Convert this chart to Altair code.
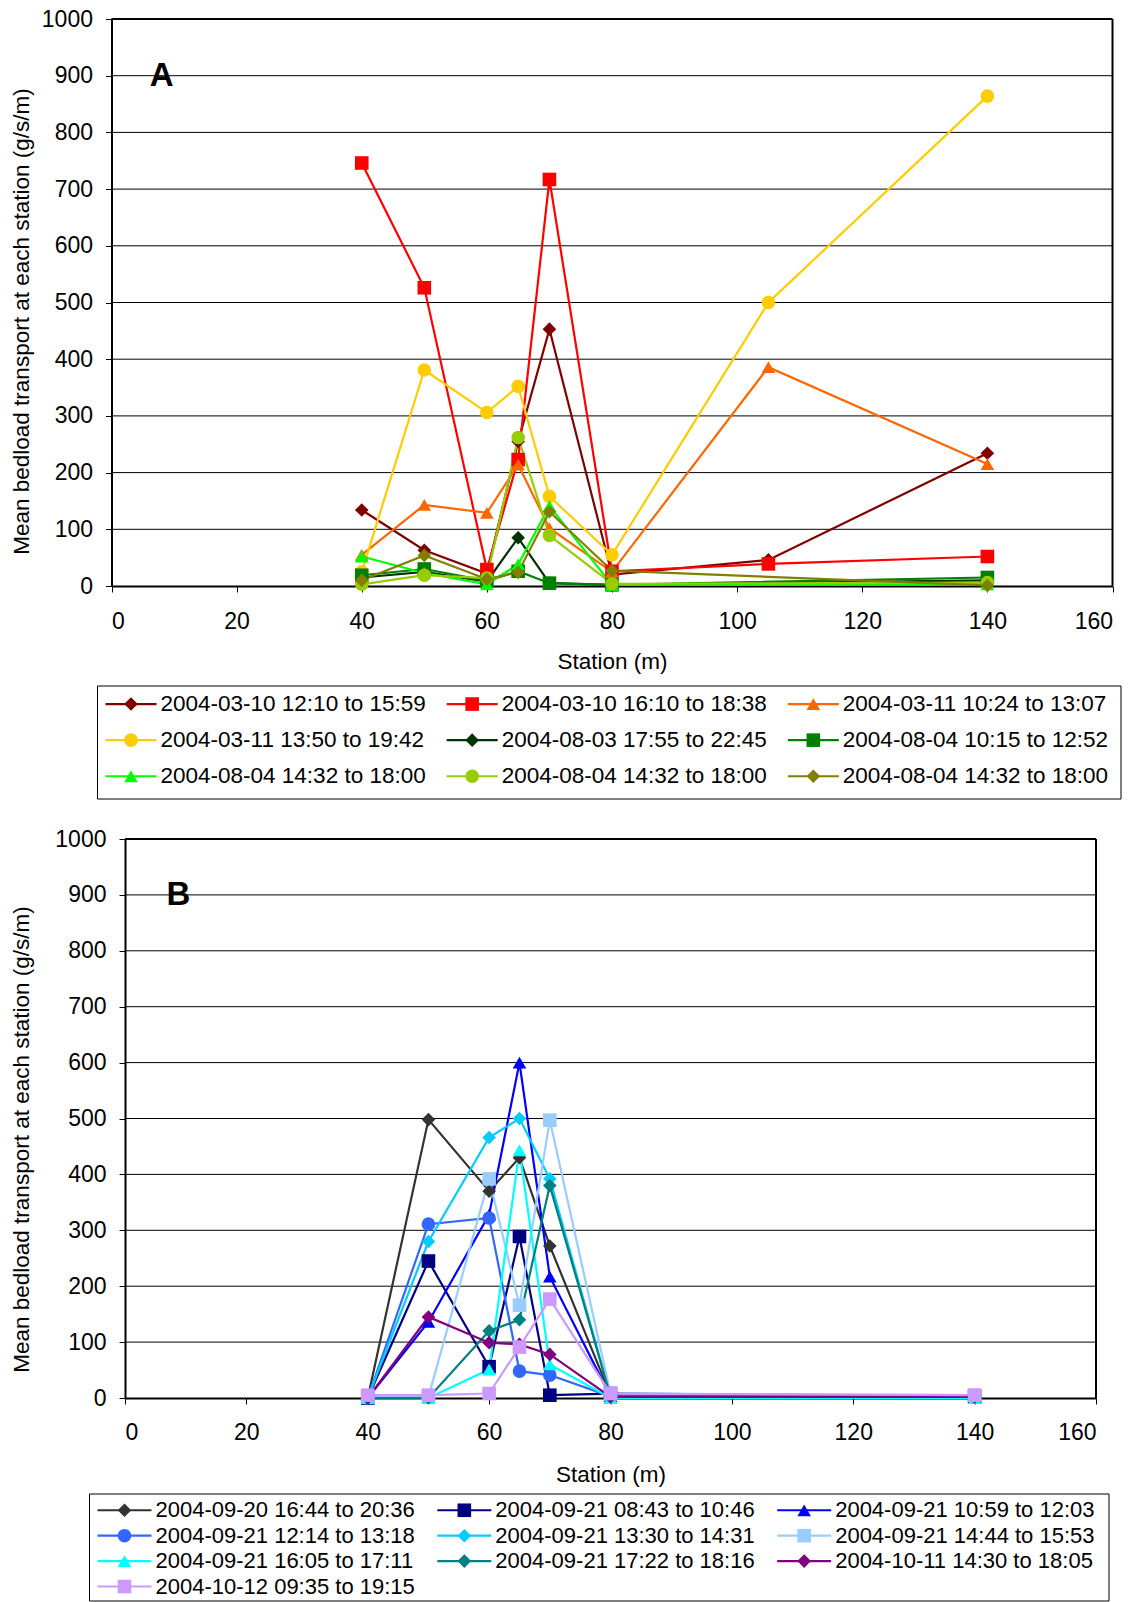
import altair as alt
import pandas as pd

# Stations along the cross-section (m)
stations_a = [40, 50, 60, 65, 70, 80, 105, 140]
stations_a_short = [40, 50, 60, 65, 70, 80, 140]
stations_b = [40, 50, 60, 65, 70, 80, 140]

# Panel A: sampling periods, line colours and marker shapes
labels_a = [
    "2004-03-10 12:10 to 15:59", "2004-03-10 16:10 to 18:38", "2004-03-11 10:24 to 13:07",
    "2004-03-11 13:50 to 19:42", "2004-08-03 17:55 to 22:45", "2004-08-04 10:15 to 12:52",
    "2004-08-04 14:32 to 18:00", "2004-08-04 14:32 to 18:00", "2004-08-04 14:32 to 18:00",
]
colors_a = ["#800000", "#FF0000", "#FF6600", "#FFCC00", "#003300",
            "#008000", "#00FF00", "#99CC00", "#808000"]
shapes_a = ["diamond", "square", "triangle-up", "circle", "diamond",
            "square", "triangle-up", "circle", "diamond"]

# Panel A: mean bedload transport (g/s/m)
a1 = [134, 63, 22, 255, 453, 20, 46, 234]
a2 = [746, 526, 29, 223, 717, 26, 39, 52]
a3 = [55, 143, 129, 214, 102, 25, 386, 215]
a4 = [25, 381, 306, 352, 158, 55, 500, 864]
a5 = [15, 25, 8, 85, 5, 2, 10]
a6 = [19, 30, 9, 26, 5, 2, 15]
a7 = [52, 23, 3, 38, 141, 2, 3]
a8 = [3, 19, 14, 262, 89, 4, 6]
a9 = [10, 54, 12, 24, 131, 27, 1]
series_a = [a1, a2, a3, a4, a5, a6, a7, a8, a9]
stations_per_a = [stations_a] * 4 + [stations_a_short] * 5

# Panel B: sampling periods, line colours and marker shapes
labels_b = [
    "2004-09-20 16:44 to 20:36", "2004-09-21 08:43 to 10:46", "2004-09-21 10:59 to 12:03",
    "2004-09-21 12:14 to 13:18", "2004-09-21 13:30 to 14:31", "2004-09-21 14:44 to 15:53",
    "2004-09-21 16:05 to 17:11", "2004-09-21 17:22 to 18:16", "2004-10-11 14:30 to 18:05",
    "2004-10-12 09:35 to 19:15",
]
colors_b = ["#333333", "#000080", "#0000FF", "#3366FF", "#00CCFF",
            "#99CCFF", "#00FFFF", "#008080", "#800080", "#CC99FF"]
shapes_b = ["diamond", "square", "triangle-up", "circle", "diamond",
            "square", "triangle-up", "diamond", "diamond", "square"]

# Panel B: mean bedload transport (g/s/m)
b1 = [0, 498, 370, 430, 272, 5, 2]
b2 = [0, 245, 56, 289, 5, 8, 3]
b3 = [0, 136, 328, 600, 217, 3, 0]
b4 = [0, 311, 322, 48, 41, 3, 2]
b5 = [0, 280, 466, 500, 392, 3, 2]
b6 = [2, 2, 392, 166, 497, 8, 5]
b7 = [0, 0, 51, 443, 60, 0, 0]
b8 = [0, 0, 120, 140, 380, 3, 2]
b9 = [0, 145, 99, 96, 78, 2, 2]
b10 = [5, 5, 8, 91, 177, 8, 5]
series_b = [b1, b2, b3, b4, b5, b6, b7, b8, b9, b10]
stations_per_b = [stations_b] * 10

y_ticks = list(range(0, 1001, 100))
x_ticks = list(range(0, 161, 20))

FONT = "Liberation Sans"
BOLD_FONT = "Liberation Sans"
MARKER = 185

sids_a = [f"A{i + 1:02d}" for i in range(len(series_a))]
sids_b = [f"B{i + 1:02d}" for i in range(len(series_b))]
color_scale = alt.Scale(domain=sids_a + sids_b, range=colors_a + colors_b)
shape_scale = alt.Scale(domain=sids_a + sids_b, range=shapes_a + shapes_b)
color = alt.Color("sid:N", scale=color_scale, legend=None)
shape = alt.Shape("sid:N", scale=shape_scale, legend=None)


def long_table(sids, stations_per, series):
    rows = []
    for sid, st, vals in zip(sids, stations_per, series):
        for s, v in zip(st, vals):
            rows.append({"sid": sid, "station": s, "value": v})
    return pd.DataFrame(rows)


def legend_table(sids, labels):
    return pd.DataFrame({
        "sid": sids,
        "label": labels,
        "col": [i % 3 for i in range(len(sids))],
        "row": [i // 3 + 0.5 for i in range(len(sids))],
    })


def panel(tag, data, width, height, x_range, y_axis_offset, y_title_pad, y_title_y,
          x_label_pad, x_title_pad, tag_x):
    xs = alt.Scale(domain=[0, 160], range=x_range, nice=False, zero=False)
    ys = alt.Scale(domain=[0, 1000], nice=False, zero=False)
    x_axis = alt.Axis(values=x_ticks, title="Station (m)", grid=False, tickSize=6,
                      labelPadding=x_label_pad, titlePadding=x_title_pad)
    y_axis = alt.Axis(values=y_ticks, format="d",
                      title="Mean bedload transport at each station (g/s/m)",
                      grid=False, tickSize=6, labelPadding=13, titlePadding=y_title_pad,
                      titleY=y_title_y, offset=y_axis_offset)

    def X(field):
        return alt.X(field, scale=xs, axis=x_axis)

    def Y(field):
        return alt.Y(field, scale=ys, axis=y_axis)

    base = alt.Chart(data)
    lines = base.mark_line(strokeWidth=2.2).encode(
        x=X("station:Q"), y=Y("value:Q"), color=color,
    )
    points = base.mark_point(filled=True, size=MARKER, opacity=1).encode(
        x=X("station:Q"), y=Y("value:Q"), color=color, shape=shape,
    )
    # horizontal gridlines and the top / right edges of the plot frame
    grid = alt.Chart(pd.DataFrame({"v": y_ticks[1:-1], "s0": 0, "s1": 160})).mark_rule(
        color="#000000", strokeWidth=1
    ).encode(y=Y("v:Q"), x=X("s0:Q"), x2="s1:Q")
    frame_top = alt.Chart(pd.DataFrame({"v": [1000], "s0": [0], "s1": [160]})).mark_rule(
        color="#000000", strokeWidth=2
    ).encode(y=Y("v:Q"), x=X("s0:Q"), x2="s1:Q")
    frame_right = alt.Chart(pd.DataFrame({"s": [160], "v0": [0], "v1": [1000]})).mark_rule(
        color="#000000", strokeWidth=2
    ).encode(x=X("s:Q"), y=Y("v0:Q"), y2="v1:Q")
    tag_text = alt.Chart(pd.DataFrame({"tag": [tag], "s": [tag_x], "v": [900]})).mark_text(
        font=BOLD_FONT, fontSize=33, fontWeight="bold", align="center",
        baseline="middle", color="#000000"
    ).encode(x=X("s:Q"), y=Y("v:Q"), text="tag:N")

    return alt.layer(grid, frame_top, frame_right, lines, points, tag_text).properties(
        width=width, height=height
    )


def legend_box(leg, width, x_range, y_domain, height, line_len, text_dx, font_size):
    lx = alt.Scale(domain=[0, 3], range=x_range, nice=False, zero=False)
    ly = alt.Scale(domain=y_domain, range=[0, height], nice=False, zero=False)
    lbase = alt.Chart(leg)
    box = alt.Chart(pd.DataFrame({"c0": [0], "c1": [3], "r0": [y_domain[0]], "r1": [y_domain[1]]})).mark_rect(
        fill="#ffffff", stroke="#000000", strokeWidth=1
    ).encode(
        x=alt.X("c0:Q", scale=lx, axis=None), x2="c1:Q",
        y=alt.Y("r0:Q", scale=ly, axis=None), y2="r1:Q",
    )
    rule = lbase.mark_rule(strokeWidth=2.2, xOffset=8, x2Offset=8 + line_len).encode(
        x=alt.X("col:Q", scale=lx, axis=None), x2="col:Q",
        y=alt.Y("row:Q", scale=ly, axis=None), color=color,
    )
    pts = lbase.mark_point(filled=True, size=MARKER, opacity=1, xOffset=8 + line_len / 2).encode(
        x=alt.X("col:Q", scale=lx, axis=None),
        y=alt.Y("row:Q", scale=ly, axis=None), color=color, shape=shape,
    )
    text = lbase.mark_text(
        align="left", baseline="middle", dx=text_dx, font=FONT, fontSize=font_size, color="#000000"
    ).encode(
        x=alt.X("col:Q", scale=lx, axis=None),
        y=alt.Y("row:Q", scale=ly, axis=None), text="label:N",
    )
    return alt.layer(box, rule, pts, text).properties(width=width, height=height)


data_a = long_table(sids_a, stations_per_a, series_a)
data_b = long_table(sids_b, stations_per_b, series_b)
leg_a = legend_table(sids_a, labels_a)
leg_b = legend_table(sids_b, labels_b)

panel_a = panel("A", data_a, width=987.5, height=567, x_range=[-13.5, 987.5],
                y_axis_offset=13.5, y_title_pad=7.5, y_title_y=302,
                x_label_pad=18, x_title_pad=17.5, tag_x=8)
legend_a = legend_box(leg_a, width=987.5, x_range=[-27.5, 996], y_domain=[0, 3.13],
                      height=113, line_len=51, text_dx=63, font_size=22.5)
panel_b = panel("B", data_b, width=971, height=559, x_range=[0, 971],
                y_axis_offset=0, y_title_pad=21, y_title_y=300,
                x_label_pad=17, x_title_pad=19.5, tag_x=8.8)
legend_b = legend_box(leg_b, width=971, x_range=[-35.5, 984], y_domain=[-0.14, 4.07],
                      height=107, line_len=54, text_dx=66, font_size=22)

top = alt.vconcat(panel_a, legend_a, spacing=12)
bottom = alt.vconcat(panel_b, legend_b, spacing=7)

chart = alt.vconcat(top, bottom, spacing=28).properties(
    padding={"left": 10, "top": 8, "right": 0, "bottom": 0},
    background="#ffffff",
).configure_view(strokeWidth=0).configure_axis(
    labelFont=FONT, titleFont=FONT, labelFontSize=23, titleFontSize=22.5,
    titleFontWeight="normal", labelColor="#000000", titleColor="#000000",
    domainColor="#000000", domainWidth=2, tickColor="#000000", tickWidth=1,
)

chart.save("out.html", embed_options={"renderer": "svg", "actions": False})
